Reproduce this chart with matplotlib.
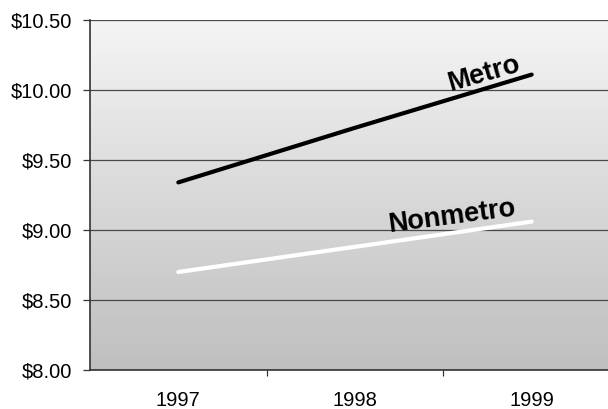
import numpy as np
import matplotlib
matplotlib.use("Agg")
import matplotlib.pyplot as plt
from matplotlib.colors import LinearSegmentedColormap

plt.rcParams['font.family'] = ['Liberation Sans', 'DejaVu Sans']

years = ["1997", "1998", "1999"]
metro = [9.34, 9.73, 10.11]
nonmetro = [8.70, 8.88, 9.06]
y_ticks = [8.00, 8.50, 9.00, 9.50, 10.00, 10.50]
y_tick_labels = ["$8.00", "$8.50", "$9.00", "$9.50", "$10.00", "$10.50"]

fig = plt.figure(figsize=(6.08, 4.09), dpi=100)
ax = fig.add_axes([90 / 608, 39 / 409, 530 / 608, 350 / 409])

x = np.arange(len(years))
ax.set_xlim(-0.5, len(years) - 0.5)
ax.set_ylim(y_ticks[0], y_ticks[-1])

# vertical grey gradient behind the plot
cmap = LinearSegmentedColormap.from_list("bg", ["#bfbfbf", "#d9d9d9", "#f5f5f5"])
grad = np.linspace(0, 1, 256).reshape(-1, 1)
ax.imshow(grad, cmap=cmap, aspect="auto", origin="lower",
          extent=[-0.5, len(years) - 0.5, y_ticks[0], y_ticks[-1]], zorder=0)

for v in y_ticks:
    ax.axhline(v, color="#4a4a4a", lw=0.9, zorder=1)

ax.plot(x, metro, color="black", lw=3.0, solid_capstyle="round", zorder=3)
ax.plot(x, nonmetro, color="white", lw=3.0, solid_capstyle="round", zorder=3)

ax.text(1.73, 10.114, "Metro", rotation=16, rotation_mode="anchor",
        ha="center", va="center", fontsize=19.5, fontweight="bold", zorder=4)
ax.text(1.55, 9.093, "Nonmetro", rotation=7.5, rotation_mode="anchor",
        ha="center", va="center", fontsize=19.5, fontweight="bold", zorder=4)

ax.set_yticks(y_ticks)
ax.set_yticklabels(y_tick_labels, fontsize=14.5)
ax.set_xticks(x)
ax.set_xticklabels(years, fontsize=14.5)
ax.set_xticks(np.arange(0.5, len(years) - 0.5), minor=True)
ax.tick_params(axis="x", which="major", length=0, pad=15)
ax.tick_params(axis="x", which="minor", length=4, width=0.9, color="#333333")
ax.tick_params(axis="y", length=5, width=0.9, color="#333333", pad=8)

for side in ("top", "right"):
    ax.spines[side].set_visible(False)
for side in ("left", "bottom"):
    ax.spines[side].set_color("#333333")
    ax.spines[side].set_linewidth(1.2)

fig.savefig("out.png", dpi=100)
